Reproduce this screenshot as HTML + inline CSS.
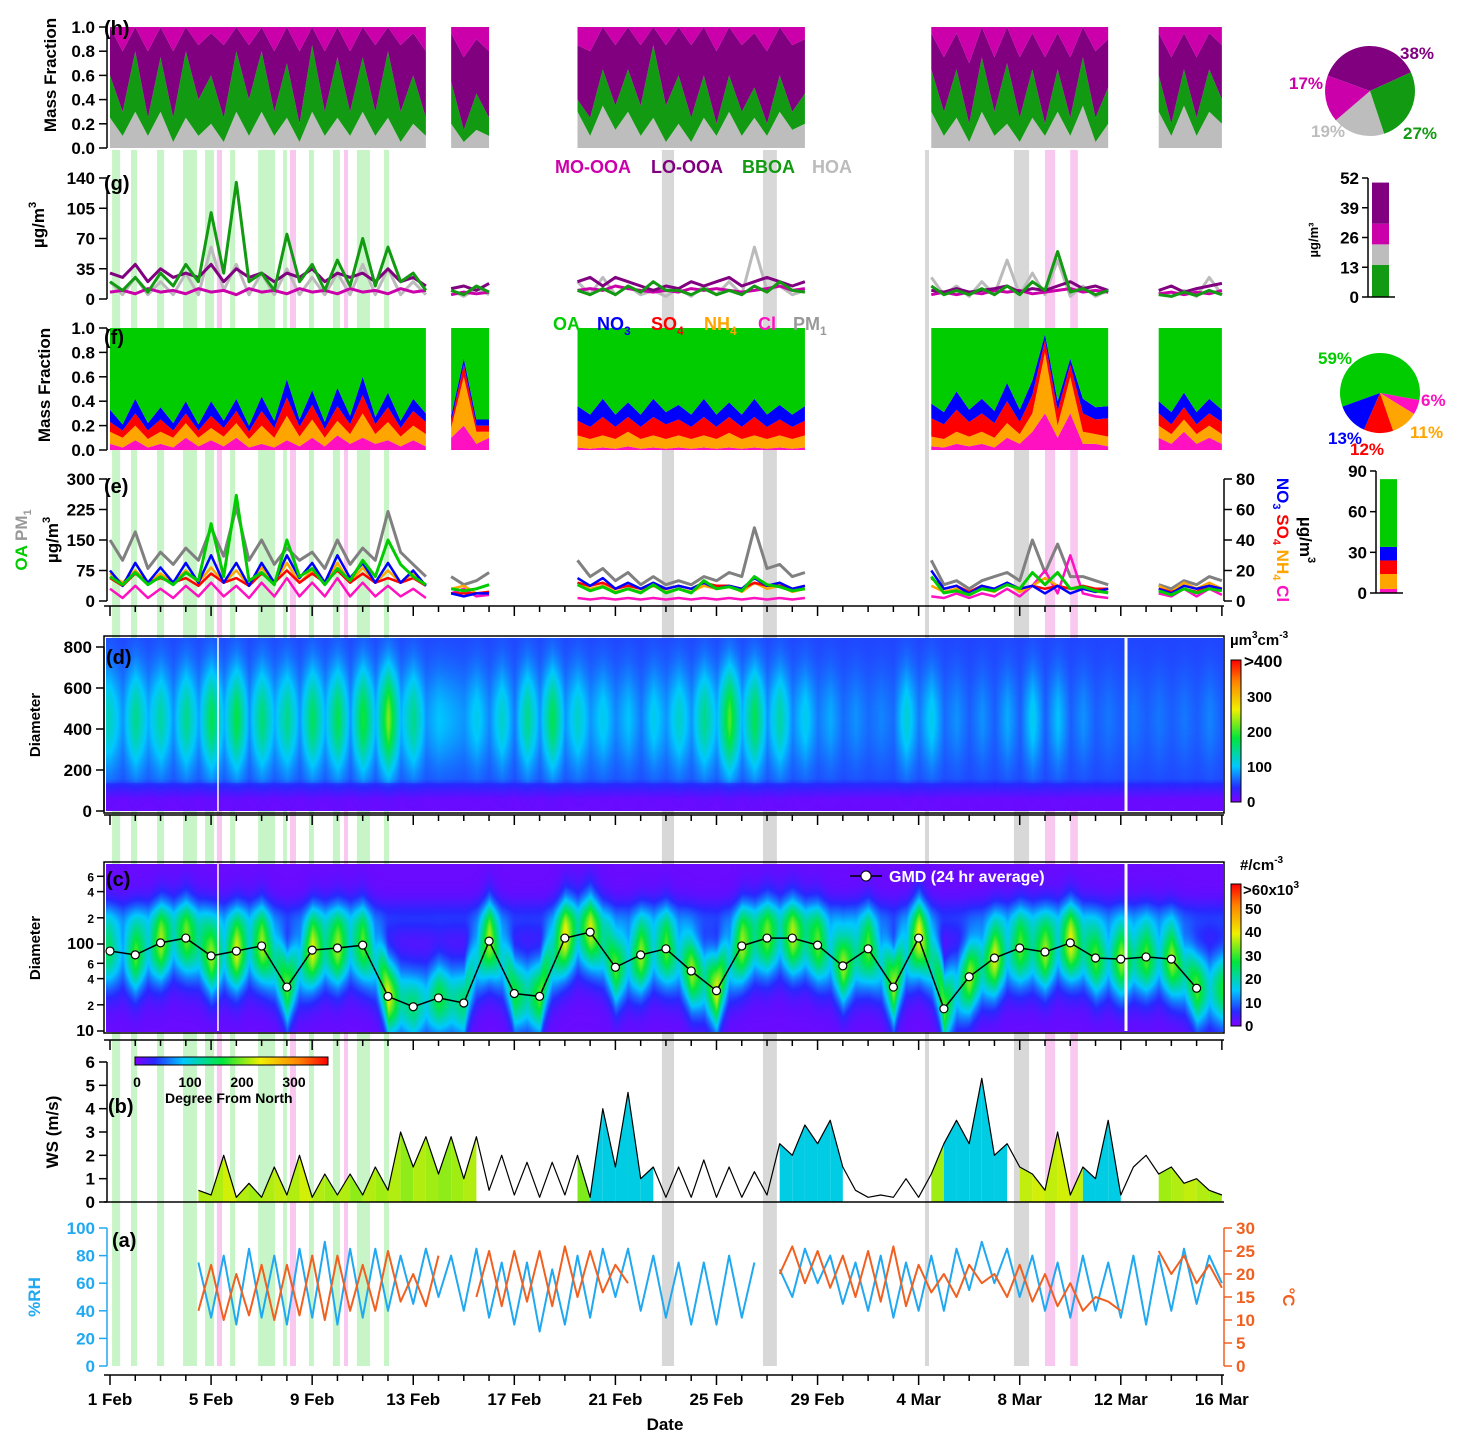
<!DOCTYPE html>
<html><head><meta charset="utf-8"><style>
body{margin:0;background:#fff;width:1461px;height:1445px;position:relative;overflow:hidden;font-family:"Liberation Sans",sans-serif;font-weight:bold}
svg{position:absolute;left:0;top:0}
canvas{position:absolute}
text{font-family:"Liberation Sans",sans-serif;font-weight:bold}
</style></head><body>
<svg id="bg" width="1461" height="1445"></svg>
<canvas id="cd" width="1117" height="173" style="left:106px;top:638px"></canvas>
<canvas id="cc" width="1117" height="168" style="left:106px;top:864px"></canvas>
<svg id="fg" width="1461" height="1445"></svg>
<script>
const _=null;
// ---- data (half-day resolution, index i -> day i/2 from 1 Feb) ----
const dateLabels=["1 Feb","5 Feb","9 Feb","13 Feb","17 Feb","21 Feb","25 Feb","29 Feb","4 Mar","8 Mar","12 Mar","16 Mar"];
const fracTicks=[0,0.2,0.4,0.6,0.8,1.0];
const gTicks=[0,35,70,105,140];
const eLeftTicks=[0,75,150,225,300];
const eRightTicks=[0,20,40,60,80];
const dTicks=[0,200,400,600,800];
const bTicks=[0,1,2,3,4,5,6];
const aLeftTicks=[0,20,40,60,80,100];
const aRightTicks=[0,5,10,15,20,25,30];
// (h) OA factor fractions
const hoaH=[.25,.1,.3,.1,.3,.05,.25,.1,.2,.05,.3,.1,.3,.1,.25,.05,.3,.1,.25,.1,.3,.1,.25,.05,.2,.1,_,.2,.05,.15,.1,_,_,_,_,_,_,.3,.1,.35,.15,.3,.1,.25,.05,.2,.05,.25,.1,.3,.1,.25,.1,.3,.15,.2,_,_,_,_,_,_,_,_,_,.3,.1,.25,.05,.3,.1,.2,.05,.25,.1,.3,.1,.35,.05,.2,_,_,_,.3,.1,.35,.1,.3,.2];
const bboaH=[.35,.2,.5,.15,.45,.2,.55,.3,.4,.2,.5,.3,.5,.2,.45,.15,.55,.2,.5,.2,.45,.2,.55,.25,.4,.15,_,.35,.1,.3,.15,_,_,_,_,_,_,.1,.15,.3,.2,.35,.25,.6,.3,.4,.2,.35,.1,.3,.2,.25,.1,.3,.15,.25,_,_,_,_,_,_,_,_,_,.35,.2,.4,.15,.45,.2,.5,.2,.4,.1,.35,.15,.4,.2,.3,_,_,_,.3,.1,.3,.15,.35,.2];
const loH=[.4,.5,.25,.55,.3,.55,.25,.45,.35,.6,.2,.45,.25,.5,.3,.6,.2,.5,.3,.5,.3,.55,.25,.55,.35,.55,_,.4,.6,.45,.55,_,_,_,_,_,_,.45,.55,.35,.5,.35,.5,.2,.5,.4,.6,.4,.6,.4,.55,.45,.6,.4,.55,.45,_,_,_,_,_,_,_,_,_,.3,.45,.3,.5,.25,.45,.3,.5,.3,.55,.3,.5,.25,.55,.4,_,_,_,.35,.55,.3,.5,.3,.45];
// (g) concentrations
const bboaG=[20,10,25,8,30,15,40,20,100,30,135,20,30,10,75,20,40,10,45,15,70,15,60,20,30,10,_,10,5,15,8,_,_,_,_,_,_,10,5,12,5,15,8,20,10,10,5,12,5,10,5,15,8,20,10,8,_,_,_,_,_,_,_,_,_,15,5,10,5,12,5,15,5,20,10,55,8,12,5,10,_,_,_,5,3,8,4,10,5];
const loG=[30,25,40,20,35,25,30,25,40,20,35,25,30,20,30,25,35,20,30,25,30,20,35,20,25,15,_,12,15,10,18,_,_,_,_,_,_,20,25,15,25,20,15,10,15,12,20,15,20,25,15,20,25,20,15,20,_,_,_,_,_,_,_,_,_,10,8,12,8,10,12,15,8,12,10,15,20,12,15,10,_,_,_,10,15,8,12,15,18];
const hoaG=[20,5,25,5,20,5,30,5,60,10,40,5,30,5,35,5,25,5,30,5,40,5,35,5,20,5,_,10,3,12,5,_,_,_,_,_,_,20,5,25,5,15,5,10,3,12,3,15,5,20,5,60,10,15,5,10,_,_,_,_,_,_,_,_,_,25,5,15,3,20,5,45,5,30,5,45,3,15,3,10,_,_,_,8,3,10,3,25,5];
const moG=[8,10,6,12,8,10,6,12,8,10,5,12,8,10,6,12,8,10,6,12,8,10,6,12,8,10,_,5,8,6,8,_,_,_,_,_,_,10,12,10,15,12,10,8,10,8,12,10,12,10,8,10,12,15,10,12,_,_,_,_,_,_,_,_,_,5,8,5,8,6,10,8,10,6,8,10,12,8,10,8,_,_,_,6,8,5,8,6,10];
// (f) PM1 species fractions
const clF=[.05,.02,.08,.02,.05,.02,.1,.03,.08,.03,.1,.02,.05,.02,.08,.03,.1,.03,.12,.05,.1,.05,.08,.03,.08,.03,_,.1,.2,.05,.1,_,_,_,_,_,_,.02,.01,.02,.01,.03,.01,.02,.01,.02,.01,.02,.01,.02,.01,.02,.01,.02,.01,.02,_,_,_,_,_,_,_,_,_,.03,.02,.05,.03,.05,.02,.1,.05,.15,.3,.1,.3,.05,.05,.03,_,_,_,.1,.05,.15,.05,.1,.05];
const nh4F=[.1,.08,.12,.07,.1,.08,.12,.07,.1,.08,.12,.07,.15,.08,.2,.08,.15,.07,.12,.08,.2,.08,.15,.08,.12,.1,_,.08,.4,.1,.05,_,_,_,_,_,_,.1,.08,.1,.08,.12,.08,.1,.08,.1,.08,.1,.08,.12,.08,.1,.08,.1,.08,.1,_,_,_,_,_,_,_,_,_,.08,.07,.1,.08,.1,.08,.12,.08,.15,.5,.1,.3,.1,.08,.08,_,_,_,.1,.08,.1,.08,.1,.08];
const so4F=[.08,.06,.1,.07,.1,.06,.08,.06,.1,.07,.1,.06,.12,.08,.15,.08,.12,.07,.12,.08,.15,.08,.12,.07,.12,.1,_,.05,.1,.05,.05,_,_,_,_,_,_,.12,.1,.15,.1,.12,.1,.15,.12,.13,.1,.15,.1,.13,.1,.15,.1,.13,.1,.12,_,_,_,_,_,_,_,_,_,.15,.12,.18,.12,.15,.12,.18,.1,.15,.1,.12,.1,.15,.12,.15,_,_,_,.1,.08,.1,.08,.1,.1];
const no3F=[.1,.05,.12,.06,.1,.06,.1,.05,.12,.06,.1,.05,.12,.06,.15,.06,.12,.06,.15,.07,.15,.06,.12,.06,.1,.07,_,.05,.05,.05,.05,_,_,_,_,_,_,.12,.1,.15,.1,.12,.1,.15,.1,.12,.1,.15,.1,.12,.1,.15,.1,.12,.1,.12,_,_,_,_,_,_,_,_,_,.12,.1,.15,.1,.12,.1,.15,.1,.12,.05,.08,.05,.12,.1,.1,_,_,_,.1,.1,.12,.1,.12,.1];
// (e) concentrations
const pmE=[150,100,170,80,120,90,130,100,180,110,230,100,150,90,130,100,120,80,150,90,130,100,220,120,90,60,_,60,40,50,70,_,_,_,_,_,_,100,60,80,50,70,40,60,40,50,40,60,50,70,60,180,80,90,60,70,_,_,_,_,_,_,_,_,_,100,40,50,30,50,60,70,50,150,70,140,60,60,50,40,_,_,_,40,30,50,40,60,50];
const oaE=[60,40,70,40,60,40,70,50,190,60,260,50,70,40,150,60,80,40,80,50,100,60,150,90,60,40,_,30,25,30,40,_,_,_,_,_,_,40,25,35,20,30,20,40,20,30,20,50,30,35,25,60,40,35,25,30,_,_,_,_,_,_,_,_,_,60,20,25,15,30,25,40,30,70,40,70,30,35,25,20,_,_,_,25,15,30,20,30,25];
const no3E=[20,10,25,12,22,12,25,12,30,12,25,10,25,12,30,15,25,12,30,15,25,12,25,12,20,10,_,5,3,5,5,_,_,_,_,_,_,15,10,15,8,12,8,12,8,10,8,12,8,10,8,15,10,12,8,10,_,_,_,_,_,_,_,_,_,20,8,10,5,10,8,12,8,10,5,10,5,8,6,8,_,_,_,8,5,10,8,10,8];
const so4E=[15,10,18,12,15,12,15,10,18,12,15,10,18,12,20,12,18,12,20,12,18,12,15,12,15,10,_,5,5,5,6,_,_,_,_,_,_,12,10,12,8,10,8,10,8,10,8,12,10,10,8,12,10,10,8,10,_,_,_,_,_,_,_,_,_,15,8,10,6,10,8,12,8,10,8,10,8,10,8,8,_,_,_,8,6,8,6,10,8];
const nh4E=[18,12,20,12,18,12,20,12,22,12,20,10,22,12,25,12,20,12,25,12,22,12,20,12,18,10,_,8,10,5,6,_,_,_,_,_,_,12,8,10,6,8,6,10,6,8,6,10,8,10,6,12,8,10,6,8,_,_,_,_,_,_,_,_,_,10,6,8,5,8,6,12,6,10,15,10,8,8,6,6,_,_,_,10,6,12,8,12,8];
const clE=[8,2,10,2,8,2,10,3,12,3,10,2,12,3,15,3,12,3,15,3,12,3,10,3,8,2,_,5,8,3,4,_,_,_,_,_,_,2,1,2,1,2,1,2,1,2,1,2,1,2,1,2,1,2,1,2,_,_,_,_,_,_,_,_,_,3,2,5,2,5,3,8,3,10,20,5,30,5,3,2,_,_,_,5,3,8,3,8,4];
// (d) volume-mode intensity
const volI=[150,60,200,80,180,60,200,70,250,80,260,60,220,80,200,60,240,80,250,60,280,80,350,80,200,60,100,80,60,120,50,150,40,200,60,250,60,150,60,120,50,100,40,120,60,150,60,200,80,320,80,250,60,180,50,120,40,80,30,60,30,50,30,140,40,120,30,60,20,60,20,80,20,120,20,100,20,60,20,40,20,40,20,40,20,40,20,50,20];
// (c) number-mode intensity (x10^3) and daily GMD (nm)
const numN=[30,15,40,20,45,20,40,25,45,20,50,20,45,25,40,20,50,25,45,20,40,20,50,25,30,20,35,25,30,20,45,20,35,25,40,25,50,20,45,25,40,20,45,20,40,20,45,25,50,20,45,25,40,20,45,25,40,20,45,25,40,20,45,20,50,25,40,20,45,25,50,20,40,25,45,20,50,25,40,20,45,25,40,20,45,25,40,20,35];
const gmd=[83,75,103,117,73,83,95,32,85,90,97,25,19,24,21,108,27,25,117,137,54,75,88,49,29,95,117,117,97,56,88,32,117,18,42,69,90,81,103,69,67,71,67,31];
// (b) wind speed and direction
const ws=[_,_,_,_,_,_,_,0.5,0.3,2.0,0.2,0.8,0.2,1.5,0.3,2.0,0.2,1.2,0.3,1.2,0.3,1.5,0.5,3.0,1.5,2.8,1.2,2.8,1.0,2.8,0.5,2.0,0.3,1.7,0.2,1.7,0.3,2.0,0.2,4.0,1.5,4.7,1.0,1.5,0.2,1.5,0.2,1.8,0.2,1.5,0.2,1.3,0.3,2.5,2.0,3.3,2.5,3.5,1.5,0.5,0.2,0.3,0.2,1.0,0.2,1.2,2.5,3.5,2.5,5.3,2.0,2.5,1.5,1.2,0.5,3.0,0.3,1.5,1.0,3.5,0.3,1.5,2.0,1.2,1.5,0.8,1.0,0.5,0.3];
const wdir=[_,_,_,_,_,_,_,215,215,225,215,210,215,220,215,225,215,210,215,205,215,210,215,205,215,210,205,210,215,_,_,_,_,_,_,_,_,200,100,100,100,100,100,_,_,_,_,_,_,_,_,_,_,100,100,100,100,100,_,_,_,_,_,_,_,210,100,100,100,100,100,_,220,225,220,225,220,100,100,100,_,_,_,210,215,220,215,210,_];
// (a) RH and temperature
const rh=[_,_,_,_,_,_,_,75,35,80,30,85,35,80,30,85,35,90,30,85,35,85,40,80,45,85,50,80,40,85,35,75,30,75,25,70,30,80,35,85,50,85,40,80,35,75,30,75,30,80,35,75,_,70,50,85,60,80,45,75,40,80,35,75,40,80,40,85,55,90,60,85,50,80,40,75,35,80,40,75,35,80,30,80,40,85,45,80,60];
const temp=[_,_,_,_,_,_,_,12,22,10,20,11,22,10,22,11,24,10,24,12,22,12,25,14,20,13,24,_,_,15,25,13,25,14,25,13,26,15,25,16,22,18,_,_,_,_,_,_,_,_,_,_,_,20,26,18,25,17,24,15,25,14,26,13,22,16,20,15,22,18,20,15,22,14,20,13,18,12,15,14,12,_,_,25,20,24,18,22,17];
// PM summary
const piehLabels=["LO-OOA","BBOA","HOA","MO-OOA"];
const piehVals=[38,27,19,17];
const piefLabels=["OA","Cl","NH4","SO4","NO3"];
const piefVals=[59,6,11,12,13];
const barGNames=["BBOA","HOA","MO-OOA","LO-OOA"];
const barGVals=[14,9,9,18];
const barENames=["Cl","NH4","SO4","NO3","OA"];
const barEVals=[3,11,10,10,50];
// event bands (days since 1 Feb)
const bandStart=[0.08,0.83,1.86,2.89,3.76,4.75,5.86,6.85,7.87,8.82,9.77,10.84,4.23,7.12,9.26,37.0,38.0,21.84,25.84,32.25,35.77];
const bandEnd=[0.4,1.07,2.14,3.44,4.12,4.95,6.53,7.0,8.07,9.1,10.29,11.04,4.43,7.36,9.42,37.4,38.3,22.32,26.39,32.41,36.37];
const bandType=["g","g","g","g","g","g","g","g","g","g","g","g","p","p","p","p","p","k","k","k","k"];

// ---- helpers ----
const NS="http://www.w3.org/2000/svg";
const bg=document.getElementById("bg"), fg=document.getElementById("fg");
function mk(p,tag,a){const e=document.createElementNS(NS,tag);for(const k in a)e.setAttribute(k,a[k]);p.appendChild(e);return e;}
function tx(p,x,y,s,size,fill,anchor){const e=mk(p,"text",{x:x,y:y,"font-size":size,fill:fill||"#000","text-anchor":anchor||"start"});e.textContent=s;return e;}
const xt=t=>110+t*25.27;
const ix=i=>xt(i/2);
const ymap=(v,vmax,yb,yt)=>yb-(v/vmax)*(yb-yt);
function runs(a){const r=[];let cur=null;for(let i=0;i<a.length;i++){if(a[i]!==null&&a[i]!==undefined){if(!cur){cur=[];r.push(cur);}cur.push(i);}else cur=null;}return r;}
const CM=[[0,[128,0,255]],[0.1,[40,40,255]],[0.25,[0,200,255]],[0.45,[0,230,60]],[0.65,[240,240,0]],[0.85,[255,130,0]],[1,[255,0,0]]];
function cmap(f){f=Math.max(0,Math.min(1,f));for(let k=1;k<CM.length;k++){if(f<=CM[k][0]){const a=CM[k-1],b=CM[k];const u=(f-a[0])/(b[0]-a[0]);return [0,1,2].map(j=>Math.round(a[1][j]+u*(b[1][j]-a[1][j])));}}return CM[CM.length-1][1];}
const rgb=c=>`rgb(${c[0]},${c[1]},${c[2]})`;
function interp(a,t){const x=Math.max(0,Math.min(a.length-1,t));const i=Math.floor(x),f=x-i;const v0=a[i]||0,v1=(a[i+1]===undefined?v0:a[i+1])||0;return v0+(v1-v0)*f;}

// ---- event bands ----
for(let k=0;k<bandStart.length;k++){
  const c=bandType[k]==="g"?"#c8f5c8":bandType[k]==="p"?"#f8c8f0":"#d8d8d8";
  const r=mk(bg,"rect",{x:xt(bandStart[k]),y:150,width:xt(bandEnd[k])-xt(bandStart[k]),height:1216,fill:c});
  
  
}

// ---- stacked fraction panels ----
function stack(layers,colors,names,topColor,topName,yb,yt){
  const rr=runs(layers[0]);
  for(const run of rr){
    const cum=run.map(()=>0);
    const all=layers.concat([null]);
    for(let k=0;k<all.length;k++){
      const lo=cum.slice();
      const up=run.map((i,j)=>all[k]?Math.min(1,lo[j]+(all[k][i]||0)):1);
      let pts=run.map((i,j)=>ix(i)+","+ymap(up[j],1,yb,yt));
      pts=pts.concat(run.slice().reverse().map((i,jj)=>{const j=run.length-1-jj;return ix(i)+","+ymap(lo[j],1,yb,yt);}));
      const p=mk(bg,"polygon",{points:pts.join(" "),fill:k<layers.length?colors[k]:topColor});
      
      
      for(let j=0;j<up.length;j++)cum[j]=up[j];
    }
  }
}
stack([hoaH,bboaH,loH],["#bdbdbd","#129a12","#800080"],["hoa","bboa","lo-ooa"],"#cc00aa","mo-ooa",148,27);
stack([clF,nh4F,so4F,no3F],["#ff10c0","#ffa500","#ff0000","#0000ff"],["cl","nh4","so4","no3"],"#00cc00","oa",450,328);

function line(p,a,vmax,yb,yt,color,w,name){
  let d="";for(const run of runs(a)){run.forEach((i,j)=>{d+=(j?"L":"M")+ix(i).toFixed(1)+" "+ymap(a[i],vmax,yb,yt).toFixed(1);});}
  const e=mk(p,"path",{d:d,fill:"none",stroke:color,"stroke-width":w,"stroke-linejoin":"round"});
  
  
}
// (g)
line(bg,hoaG,140,299,178,"#bbbbbb",3,"hoa-line");
line(bg,moG,140,299,178,"#cc00aa",3,"mo-ooa-line");
line(bg,loG,140,299,178,"#800080",3,"lo-ooa-line");
line(bg,bboaG,140,299,178,"#129a12",3,"bboa-line");
// (e)
line(bg,pmE,300,601,479,"#808080",3,"pm1-line");
line(bg,clE,80,601,479,"#ff10c0",2.5,"cl-line");
line(bg,nh4E,80,601,479,"#ffa500",2.5,"nh4-line");
line(bg,so4E,80,601,479,"#ff0000",2.5,"so4-line");
line(bg,no3E,80,601,479,"#0000ff",2.5,"no3-line");
line(bg,oaE,300,601,479,"#00cc00",3,"oa-line");
// (b) wind speed
for(let i=0;i<ws.length-1;i++){
  if(ws[i]===null||ws[i+1]===null||wdir[i]===null)continue;
  const p=mk(bg,"polygon",{points:`${ix(i)},1202 ${ix(i)},${ymap(ws[i],6,1202,1062)} ${ix(i+1)},${ymap(ws[i+1],6,1202,1062)} ${ix(i+1)},1202`,fill:rgb(cmap(wdir[i]/360))});
  
  
}
line(bg,ws,6,1202,1062,"#000",1.2,"wind-speed-line");
// (a)
line(bg,rh,100,1366,1228,"#20a8f0",2,"rh-line");
line(bg,temp,30,1366,1228,"#f06020",2,"temperature-line");

// ---- heatmaps ----
(function(){
  const c=document.getElementById("cd"),g=c.getContext("2d"),W=c.width,H=c.height,img=g.createImageData(W,H);
  for(let px=0;px<W;px++){const t=(106+px-110)/25.27;const I=interp(volI,t*2);
    for(let py=0;py<H;py++){const Y=638+py;const d=Math.max(0,(811-Y)/164*800);
      let base=d<60?10:d<160?10+(d-60)*0.4:50;
      let v=base+0.5*I*Math.exp(-Math.pow((d-450)/250,2))*(d>140?1:0.3);
      const col=cmap(v/400),o=(py*W+px)*4;img.data[o]=col[0];img.data[o+1]=col[1];img.data[o+2]=col[2];img.data[o+3]=255;}}
  g.putImageData(img,0,0);
})();
(function(){
  const c=document.getElementById("cc"),g=c.getContext("2d"),W=c.width,H=c.height,img=g.createImageData(W,H);
  for(let px=0;px<W;px++){const t=(106+px-110)/25.27;const N=interp(numN,t*2);const G=Math.log10(interp(gmd,t));
    for(let py=0;py<H;py++){const Y=864+py;const ld=1+(1031-Y)/87;
      let v=0.75*N*Math.exp(-Math.pow((ld-G)/0.42,2))+5*Math.exp(-Math.pow((ld-2.3)/0.2,2))+1.5;
      const col=cmap(v/60),o=(py*W+px)*4;img.data[o]=col[0];img.data[o+1]=col[1];img.data[o+2]=col[2];img.data[o+3]=255;}}
  g.putImageData(img,0,0);
})();

// ---- foreground: frames, axes, ticks ----
function L(p,x1,y1,x2,y2,w,name,col){const e=mk(p,"line",{x1:x1,y1:y1,x2:x2,y2:y2,stroke:col||"#000","stroke-width":w||1.5});return e;}
for(const [y,h,n] of [[636,177,"d"],[862,171,"c"]]){
  const r=mk(fg,"rect",{x:104,y:y,width:1120,height:h,fill:"none",stroke:"#000","stroke-width":1.5});
  
  
  L(fg,218,y+2,218,y+h-2,1.5,'heatmap-divider-'+n,"#fff");
  L(fg,1126,y+2,1126,y+h-2,3,'heatmap-gap-'+n,"#fff");
}
{let d="";gmd.forEach((v,i)=>{d+=(i?"L":"M")+xt(i).toFixed(1)+" "+(1031-(Math.log10(v)-1)*87).toFixed(1);});
 const e=mk(fg,"path",{d:d,fill:"none",stroke:"#000","stroke-width":1.5});
 gmd.forEach((v,i)=>{const c=mk(fg,"circle",{cx:xt(i),cy:1031-(Math.log10(v)-1)*87,r:4,fill:"#fff",stroke:"#000","stroke-width":1.2});
 
 });}
function yaxis(ticks,vmax,yb,yt,x,side,color,fmt,name){
  L(fg,x,yb,x,yt,1.5,name+'-line',color);
  ticks.forEach(v=>{const y=ymap(v,vmax,yb,yt);
    L(fg,x,y,side<0?x-8:x+8,y,1.5,name+'-tick',color);
    const t=tx(fg,side<0?x-12:x+12,y+6,fmt?fmt(v):String(v),17,color,side<0?"end":"start");
    
    });
}
yaxis(fracTicks,1,148,27,107,-1,"#000",v=>v.toFixed(1),"h-y-axis");
yaxis(gTicks,140,299,178,107,-1,"#000",null,"g-y-axis");
yaxis(fracTicks,1,450,328,107,-1,"#000",v=>v.toFixed(1),"f-y-axis");
yaxis(eLeftTicks,300,601,479,107,-1,"#000",null,"e-left-axis");
yaxis(eRightTicks,80,601,479,1224,1,"#000",null,"e-right-axis");
yaxis(dTicks,800,811,647,104,-1,"#000",null,"d-y-axis");
yaxis(bTicks,6,1202,1062,107,-1,"#000",null,"b-y-axis");
yaxis(aLeftTicks,100,1366,1228,107,-1,"#20a8f0",null,"a-left-axis");
yaxis(aRightTicks,30,1366,1228,1224,1,"#f06020",null,"a-right-axis");
[[10,"10"],[20,"2"],[40,"4"],[60,"6"],[100,"100"],[200,"2"],[400,"4"],[600,"6"]].forEach(([v,s])=>{const y=1031-(Math.log10(v)-1)*87;
  L(fg,104,y,97,y,1.5,'c-y-tick');
  const t=tx(fg,94,y+5,s,s.length>1?16:12,"#000","end");
  
  });
for(const [y,name] of [[606,"e-x-axis"],[815,"d-x-axis"],[1040,"c-x-axis"],[1375,"a-x-axis"]]){
  L(fg,104,y,1224,y,1.5,name);
  for(let d=0;d<=44;d++){const x=xt(d);L(fg,x,y,x,y+(d%4===0?10:6),1.5,name+'-tick');}
}
L(fg,104,1202,1224,1202,1.5,'b-x-axis');
dateLabels.forEach((s,k)=>{const t=tx(fg,xt(k*4),1405,s,17,"#000","middle");
  
  });
</script>
<svg width="1461" height="1445" style="position:absolute;left:0;top:0">
<g font-size="20">
<text x="104" y="35">(h)</text>
<text x="104" y="190">(g)</text>
<text x="104" y="344">(f)</text>
<text x="104" y="493">(e)</text>
<text x="106" y="664">(d)</text>
<text x="106" y="886">(c)</text>
<text x="108" y="1113">(b)</text>
<text x="112" y="1247">(a)</text>
</g>
<g font-size="17">
<text transform="translate(56,75) rotate(-90)" text-anchor="middle">Mass Fraction</text>
<text transform="translate(50,385) rotate(-90)" text-anchor="middle">Mass Fraction</text>
<text transform="translate(44,225) rotate(-90)" text-anchor="middle">µg/m<tspan dy="-8" font-size="11">3</tspan></text>
<text transform="translate(58,540) rotate(-90)" text-anchor="middle">µg/m<tspan dy="-8" font-size="11">3</tspan></text>
<text transform="translate(27,540) rotate(-90)" text-anchor="middle"><tspan fill="#00cc00">OA</tspan> <tspan fill="#999">PM<tspan font-size="11" dy="4">1</tspan></tspan></text>
<text transform="translate(1277,540) rotate(90)" text-anchor="middle"><tspan fill="#0000ff">NO<tspan font-size="11" dy="4">3</tspan></tspan><tspan dy="-4" fill="#ff0000"> SO<tspan font-size="11" dy="4">4</tspan></tspan><tspan dy="-4" fill="#ffa500"> NH<tspan font-size="11" dy="4">4</tspan></tspan><tspan dy="-4" fill="#ff10c0"> Cl</tspan></text>
<text transform="translate(1300,540) rotate(90)" text-anchor="middle">µg/m<tspan dy="-8" font-size="11">3</tspan></text>
<text transform="translate(40,725) rotate(-90)" text-anchor="middle" font-size="15">Diameter</text>
<text transform="translate(40,948) rotate(-90)" text-anchor="middle" font-size="15">Diameter</text>
<text transform="translate(58,1132) rotate(-90)" text-anchor="middle">WS (m/s)</text>
<text transform="translate(40,1297) rotate(-90)" text-anchor="middle" fill="#20a8f0">%RH</text>
<text transform="translate(1283,1297) rotate(90)" text-anchor="middle" fill="#f06020">°C</text>
<text x="665" y="1430" text-anchor="middle">Date</text>
</g>
<g font-size="18">
<text x="555" y="173" fill="#cc00aa">MO-OOA</text>
<text x="651" y="173" fill="#800080">LO-OOA</text>
<text x="742" y="173" fill="#129a12">BBOA</text>
<text x="812" y="173" fill="#bbbbbb">HOA</text>
<text x="553" y="330" fill="#00cc00">OA</text>
<text x="597" y="330" fill="#0000ff">NO<tspan font-size="12" dy="5">3</tspan></text>
<text x="651" y="330" fill="#ff0000">SO<tspan font-size="12" dy="5">4</tspan></text>
<text x="704" y="330" fill="#ffa500">NH<tspan font-size="12" dy="5">4</tspan></text>
<text x="758" y="330" fill="#ff10c0">Cl</text>
<text x="793" y="330" fill="#999">PM<tspan font-size="12" dy="5">1</tspan></text>
</g>
<g>
<line x1="850" y1="876" x2="882" y2="876" stroke="#000" stroke-width="1.5"/>
<circle cx="866" cy="876" r="5" fill="#fff" stroke="#000"/>
<text x="889" y="882" font-size="16" fill="#fff">GMD (24 hr average)</text>
</g>
<defs>
<linearGradient id="cbv" x1="0" y1="1" x2="0" y2="0"><stop offset="0" stop-color="#8000ff"/><stop offset="0.1" stop-color="#2828ff"/><stop offset="0.25" stop-color="#00c8ff"/><stop offset="0.45" stop-color="#00e63c"/><stop offset="0.65" stop-color="#f0f000"/><stop offset="0.85" stop-color="#ff8200"/><stop offset="1" stop-color="#ff0000"/></linearGradient>
<linearGradient id="cbh" x1="0" y1="0" x2="1" y2="0"><stop offset="0" stop-color="#8000ff"/><stop offset="0.1" stop-color="#2828ff"/><stop offset="0.25" stop-color="#00c8ff"/><stop offset="0.45" stop-color="#00e63c"/><stop offset="0.65" stop-color="#f0f000"/><stop offset="0.85" stop-color="#ff8200"/><stop offset="1" stop-color="#ff0000"/></linearGradient>
</defs>
<g font-size="15">
<rect x="1231" y="660" width="10" height="142" fill="url(#cbv)" stroke="#000"/>
<text x="1230" y="645">µm<tspan dy="-7" font-size="10">3</tspan><tspan dy="7">cm</tspan><tspan dy="-7" font-size="10">-3</tspan></text>
<text x="1244" y="667" font-weight="normal" font-size="17">&gt;400</text>
<text x="1247" y="702">300</text><text x="1247" y="737">200</text><text x="1247" y="772">100</text><text x="1247" y="807">0</text>
</g>
<g font-size="15">
<rect x="1231" y="884" width="10" height="142" fill="url(#cbv)" stroke="#000"/>
<text x="1240" y="870">#/cm<tspan dy="-7" font-size="10">-3</tspan></text>
<text x="1243" y="895">&gt;60x10<tspan dy="-7" font-size="10">3</tspan></text>
<text x="1245" y="914">50</text><text x="1245" y="937">40</text><text x="1245" y="961">30</text><text x="1245" y="984">20</text><text x="1245" y="1008">10</text><text x="1245" y="1031">0</text>
</g>
<g font-size="14">
<rect x="135" y="1057" width="193" height="8" fill="url(#cbh)" stroke="#000"/>
<text x="137" y="1087" text-anchor="middle">0</text><text x="190" y="1087" text-anchor="middle">100</text><text x="242" y="1087" text-anchor="middle">200</text><text x="294" y="1087" text-anchor="middle">300</text>
<text x="165" y="1103">Degree From North</text>
</g>
<g id="side" font-size="17"></g>
</svg>
<script>
const side=document.getElementById("side");
function arc(cx,cy,r,a0,a1){const p=a=>[cx+r*Math.cos(a*Math.PI/180),cy+r*Math.sin(a*Math.PI/180)];const s=p(a0),e=p(a1);return `M${cx},${cy}L${s[0]},${s[1]}A${r},${r} 0 ${a1-a0>180?1:0} 1 ${e[0]},${e[1]}Z`;}
function pie(vals,labels,colors,cx,cy,r,start){let a=start;const tot=vals.reduce((s,v)=>s+v,0);
  vals.forEach((v,k)=>{const a1=a+v/tot*360;const p=mk(side,"path",{d:arc(cx,cy,r,a,a1),fill:colors[k]});
  
  
  a=a1;});}
pie(piehVals,piehLabels,["#800080","#129a12","#bdbdbd","#cc00aa"],1370,91,45,-160);
pie(piefVals,piefLabels,["#00cc00","#ff10c0","#ffa500","#ff0000","#0000ff"],1380,393,40,-200);
[["38%",1400,59,"#800080"],["17%",1289,89,"#cc00aa"],["19%",1311,137,"#bdbdbd"],["27%",1403,139,"#129a12"],["59%",1318,364,"#00cc00"],["6%",1421,406,"#ff10c0"],["11%",1410,438,"#ffa500"],["12%",1350,455,"#ff0000"],["13%",1328,444,"#0000ff"]].forEach(([s,x,y,c])=>{
  const t=tx(side,x,y,s,17,c);
  
  });
function bar(vals,names,colors,x,w,yb,scale,ticks,ax){let b=0;
  vals.forEach((v,k)=>{const r=mk(side,"rect",{x:x,y:yb-(b+v)*scale,width:w,height:v*scale,fill:colors[k]});
  
  
  b+=v;});
  L(side,ax,yb,ax,yb-ticks[ticks.length-1]*scale,1.5,'bar-axis');
  L(side,ax,yb,x+w+6,yb,1.5,'bar-baseline');
  ticks.forEach(v=>{const y=yb-v*scale;L(side,ax,y,ax-6,y,1.5,'bar-tick');
    const t=tx(side,ax-9,y+6,String(v),17,"#000","end");
    
    });}
bar(barGVals,barGNames,["#129a12","#bdbdbd","#cc00aa","#800080"],1372,17,297,119/52,[0,13,26,39,52],1368);
bar(barEVals,barENames,["#ff10c0","#ffa500","#ff0000","#0000ff","#00cc00"],1380,17,593,122/90,[0,30,60,90],1376);
{const t=mk(side,"text",{transform:"translate(1318,240) rotate(-90)","text-anchor":"middle","font-size":13});t.textContent="µg/m³";

}
</script>
</body></html>
